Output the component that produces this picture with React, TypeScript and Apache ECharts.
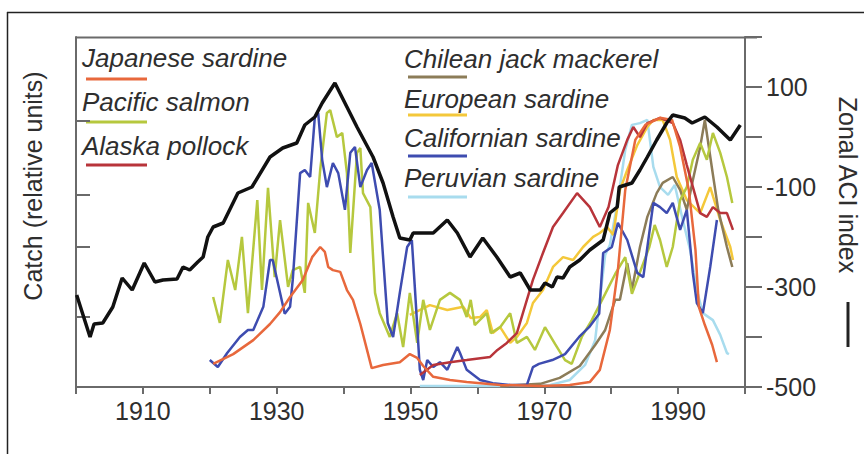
import React, { useEffect, useRef } from 'react';
import * as echarts from 'echarts';

// ---- Data (year, value) ----
// Catch series: relative units on the left axis (0 = bottom, 100 = top)
const japaneseSardine: [number, number][] = [
  [1920.5, 6.6], [1923.5, 9.4], [1926.5, 13.4], [1929.0, 18.0], [1930.5, 21.4], [1932.0, 25.7],
  [1933.9, 30.6], [1935.3, 37.1], [1936.5, 40.0], [1937.2, 38.6], [1937.7, 34.3], [1938.4, 33.4],
  [1939.5, 32.9], [1940.5, 27.7], [1941.4, 24.9], [1942.5, 18.0], [1943.5, 10.6], [1944.2, 5.4],
  [1945.9, 6.3], [1948.4, 7.1], [1949.9, 9.4], [1951.0, 8.3], [1951.9, 6.0], [1953.4, 2.9],
  [1955.9, 2.0], [1958.4, 1.4], [1963.4, 0.6], [1969.4, 0.3], [1973.8, 0.6], [1976.8, 1.4],
  [1978.3, 4.9], [1979.8, 16.3], [1981.0, 33.4], [1982.1, 56.3], [1983.6, 70.6], [1985.1, 74.9],
  [1987.3, 76.9], [1989.1, 76.3], [1990.3, 68.6], [1991.6, 56.3], [1992.6, 39.1], [1993.1, 22.9],
  [1994.0, 17.7], [1995.1, 12.0], [1995.8, 7.1],
];

const pacificSalmon: [number, number][] = [
  [1920.5, 25.7], [1921.5, 18.3], [1922.7, 36.3], [1923.8, 27.7], [1924.8, 42.9], [1925.7, 21.1],
  [1927.1, 53.4], [1927.8, 27.7], [1928.7, 56.9], [1929.7, 31.4], [1930.5, 47.7], [1931.7, 28.6],
  [1932.4, 33.4], [1933.5, 34.3], [1934.2, 26.9], [1934.7, 52.6], [1935.7, 44.0], [1936.5, 62.0],
  [1937.5, 78.3], [1938.0, 79.1], [1939.0, 71.4], [1939.8, 72.6], [1940.5, 61.1], [1941.0, 38.3],
  [1942.0, 66.9], [1942.5, 68.3], [1942.9, 55.4], [1944.0, 51.4], [1944.7, 26.9], [1945.4, 21.1],
  [1946.9, 14.3], [1948.0, 21.1], [1948.9, 11.4], [1949.9, 26.9], [1951.0, 12.6], [1951.9, 24.9],
  [1952.9, 16.3], [1954.4, 24.9], [1955.9, 26.9], [1957.4, 24.9], [1958.4, 20.0], [1959.0, 24.9],
  [1959.6, 17.7], [1961.4, 21.1], [1962.0, 15.4], [1963.4, 17.1], [1964.9, 21.1], [1965.9, 12.6],
  [1967.4, 14.3], [1968.6, 10.6], [1970.1, 17.1], [1971.6, 12.3], [1973.1, 7.7], [1974.1, 6.6],
  [1975.6, 14.3], [1977.1, 19.1], [1979.1, 26.6], [1980.6, 32.3], [1982.1, 37.1], [1983.1, 26.6],
  [1984.2, 32.3], [1985.7, 40.0], [1986.5, 46.3], [1987.3, 42.0], [1988.3, 34.3], [1989.2, 40.0],
  [1990.3, 53.4], [1991.3, 57.1], [1992.2, 64.9], [1993.3, 69.7], [1994.3, 64.9], [1995.2, 72.6],
  [1996.3, 66.9], [1997.3, 60.0], [1998.1, 52.6],
];

const alaskaPollock: [number, number][] = [
  [1951.4, 3.4], [1953.4, 6.3], [1955.9, 7.1], [1958.4, 7.7], [1961.9, 8.6], [1963.0, 10.6],
  [1964.4, 12.6], [1965.9, 15.4], [1966.8, 21.1], [1968.3, 30.6], [1969.8, 38.3], [1971.3, 45.7],
  [1972.8, 49.7], [1974.9, 55.4], [1976.8, 51.4], [1978.3, 45.7], [1979.6, 51.4], [1981.0, 63.4],
  [1982.4, 70.6], [1983.3, 74.3], [1984.3, 71.4], [1985.4, 75.4], [1987.3, 76.9], [1989.2, 75.4],
  [1990.3, 70.6], [1991.3, 63.4], [1993.3, 49.7], [1994.3, 48.6], [1995.2, 51.4], [1996.3, 49.7],
  [1997.3, 49.7], [1998.2, 44.9],
];

const chileanJackMackerel: [number, number][] = [
  [1963.4, 0.3], [1969.4, 0.9], [1972.3, 2.6], [1975.3, 6.0], [1977.6, 12.0], [1979.1, 16.3],
  [1980.6, 24.9], [1981.3, 24.9], [1982.4, 35.4], [1983.1, 27.7], [1984.3, 40.0], [1985.4, 48.6],
  [1986.8, 55.4], [1987.7, 58.3], [1989.2, 60.0], [1990.3, 56.3], [1991.3, 50.6], [1992.2, 59.1],
  [1993.3, 68.6], [1994.0, 76.3], [1995.1, 62.0], [1996.0, 50.6], [1997.3, 40.0], [1998.1, 34.3],
];

const europeanSardine: [number, number][] = [
  [1949.9, 20.6], [1952.9, 23.4], [1955.5, 22.0], [1957.9, 22.9], [1959.0, 19.7], [1960.4, 20.0],
  [1961.4, 22.0], [1962.3, 15.4], [1963.4, 17.1], [1964.9, 12.6], [1965.9, 14.3], [1967.4, 18.3],
  [1968.3, 24.0], [1969.8, 27.7], [1971.3, 34.3], [1972.8, 37.1], [1974.3, 36.3], [1975.8, 40.0],
  [1977.3, 42.9], [1978.3, 44.0], [1979.4, 45.7], [1980.3, 43.4], [1981.3, 56.3], [1982.4, 62.0],
  [1983.9, 69.1], [1985.4, 74.3], [1986.3, 76.3], [1987.7, 76.3], [1988.8, 70.6], [1989.8, 60.0],
  [1991.3, 53.4], [1993.3, 49.7], [1994.8, 57.1], [1996.3, 47.7], [1997.8, 40.0], [1998.2, 36.3],
];

const californianSardine: [number, number][] = [
  [1920.0, 7.7], [1921.2, 5.7], [1922.6, 9.7], [1924.5, 14.3], [1925.7, 16.3], [1926.5, 16.3],
  [1928.0, 22.9], [1929.0, 36.3], [1929.4, 36.3], [1930.5, 26.9], [1931.2, 20.9], [1932.0, 22.9],
  [1932.4, 30.6], [1933.5, 61.1], [1934.2, 62.0], [1935.0, 60.0], [1935.7, 77.1], [1936.2, 78.3],
  [1936.8, 64.9], [1937.5, 57.1], [1938.4, 64.0], [1939.2, 61.1], [1940.2, 50.6], [1941.0, 66.9],
  [1941.7, 68.6], [1942.5, 57.1], [1943.5, 62.0], [1944.2, 64.0], [1945.4, 50.6], [1946.6, 18.3],
  [1947.4, 14.3], [1948.4, 26.9], [1949.5, 40.0], [1950.2, 42.0], [1950.7, 26.9], [1951.4, 4.9],
  [1951.9, 2.0], [1952.5, 7.7], [1953.4, 5.7], [1954.4, 7.1], [1955.5, 4.9], [1957.0, 11.4],
  [1957.4, 9.7], [1958.4, 4.9], [1960.4, 2.0], [1962.3, 1.1], [1964.9, 0.6], [1967.4, 0.6],
  [1968.3, 5.7], [1969.2, 6.6], [1971.2, 7.7], [1973.1, 9.4], [1975.2, 14.3], [1976.7, 17.1],
  [1978.2, 20.9], [1978.8, 38.3], [1980.1, 40.0], [1981.0, 46.9], [1982.4, 42.0], [1983.9, 32.6],
  [1984.8, 31.4], [1986.3, 52.6], [1987.3, 51.4], [1988.3, 49.7], [1989.2, 52.6], [1990.3, 44.9],
  [1991.3, 50.6], [1992.2, 32.6], [1992.8, 24.0], [1993.7, 21.1], [1994.8, 34.3], [1995.8, 47.7],
];

const peruvianSardine: [number, number][] = [
  [1951.4, 0.3], [1963.4, 0.3], [1970.9, 0.6], [1973.8, 2.0], [1976.1, 6.3], [1977.6, 13.4],
  [1978.3, 24.9], [1979.1, 37.7], [1979.8, 40.6], [1981.0, 53.4], [1982.1, 67.7], [1983.1, 74.9],
  [1984.3, 75.4], [1985.4, 76.3], [1986.3, 62.9], [1987.3, 57.1], [1988.5, 54.9], [1989.5, 57.7],
  [1990.7, 47.7], [1991.8, 39.1], [1992.8, 27.7], [1993.7, 21.1], [1995.2, 19.1], [1996.3, 14.9],
  [1997.3, 9.7], [1997.6, 9.4],
];

// Zonal ACI index (right axis)
const aciIndex: [number, number][] = [
  [1900.1, -316], [1902.1, -400], [1902.7, -374], [1904.0, -372], [1905.5, -340], [1906.9, -282],
  [1908.4, -306], [1910.2, -252], [1911.8, -290], [1913.0, -286], [1915.1, -284], [1916.0, -260],
  [1917.0, -266], [1918.2, -250], [1919.0, -240], [1919.7, -200], [1920.5, -180], [1922.0, -172],
  [1924.2, -112], [1926.3, -100], [1929.0, -40], [1930.9, -22], [1933.0, -12], [1934.2, 24],
  [1935.7, 40], [1936.8, 68], [1938.7, 108], [1940.5, 60], [1942.0, 20], [1944.4, -40],
  [1945.9, -92], [1947.4, -160], [1948.4, -202], [1949.9, -206], [1950.4, -192], [1953.4, -192],
  [1955.5, -166], [1957.0, -192], [1958.9, -240], [1960.8, -202], [1962.9, -240], [1964.9, -280],
  [1966.4, -272], [1967.9, -306], [1969.4, -306], [1970.1, -292], [1971.2, -300], [1971.9, -280],
  [1972.8, -282], [1973.8, -260], [1975.3, -246], [1976.8, -226], [1978.8, -206], [1979.8, -152],
  [1980.9, -140], [1981.2, -100], [1983.1, -92], [1984.3, -66], [1985.4, -40], [1986.8, -6],
  [1988.3, 28], [1989.2, 44], [1991.0, 38], [1992.1, 28], [1994.0, 40], [1995.8, 20],
  [1997.8, -6], [1999.3, 24],
];

// Axis ticks / labels
const yearLabels = [1910, 1930, 1950, 1970, 1990];
const aciLabels = [100, -100, -300, -500];
const catchTicks = [20, 40, 55, 76];

const legendLeft = ['Japanese sardine', 'Pacific salmon', 'Alaska pollock'];
const legendRight = ['Chilean jack mackerel', 'European sardine', 'Californian sardine', 'Peruvian sardine'];

const COLORS: Record<string, string> = {
  'Japanese sardine': '#e8683c',
  'Pacific salmon': '#b6c83e',
  'Alaska pollock': '#b8343a',
  'Chilean jack mackerel': '#8c7c58',
  'European sardine': '#f4c83a',
  'Californian sardine': '#3e4cb0',
  'Peruvian sardine': '#a8dcee',
};

const FONT = '"Liberation Sans", Arial, sans-serif';
const AXIS_GRAY = '#6a6a6a';
const TEXT = '#2e2e2e';

export default function App() {
  const ref = useRef<HTMLDivElement>(null);

  useEffect(() => {
    if (!ref.current) return;
    const chart = echarts.init(ref.current, undefined, { renderer: 'svg' });

    const catchSeries: [string, [number, number][]][] = [
      ['Peruvian sardine', peruvianSardine],
      ['European sardine', europeanSardine],
      ['Chilean jack mackerel', chileanJackMackerel],
      ['Pacific salmon', pacificSalmon],
      ['Californian sardine', californianSardine],
      ['Alaska pollock', alaskaPollock],
      ['Japanese sardine', japaneseSardine],
    ];

    const series: any[] = catchSeries.map(([name, data]) => ({
      name,
      type: 'line',
      data,
      xAxisIndex: 0,
      yAxisIndex: 0,
      symbol: 'none',
      showSymbol: false,
      silent: true,
      lineStyle: { color: COLORS[name], width: 2.5 },
      itemStyle: { color: COLORS[name] },
    }));
    series.push({
      name: 'Zonal ACI index',
      type: 'line',
      data: aciIndex,
      xAxisIndex: 0,
      yAxisIndex: 1,
      symbol: 'none',
      showSymbol: false,
      silent: true,
      lineStyle: { color: '#111111', width: 3.5 },
      itemStyle: { color: '#111111' },
      z: 5,
    });

    const graphic: any[] = [];
    // Outer frame (top and left edges)
    graphic.push({ type: 'line', shape: { x1: 7, y1: 12.5, x2: 864, y2: 12.5 }, style: { stroke: '#222', lineWidth: 1.5 }, silent: true });
    graphic.push({ type: 'line', shape: { x1: 7.5, y1: 12, x2: 7.5, y2: 454 }, style: { stroke: '#222', lineWidth: 1.5 }, silent: true });
    // Top border of plot
    graphic.push({ type: 'line', shape: { x1: 76, y1: 37.5, x2: 757, y2: 37.5 }, style: { stroke: AXIS_GRAY, lineWidth: 2 }, silent: true });

    // Legend column 1
    const col1TextY = [58, 102, 146];
    const col1LineY = [79, 122, 165];
    legendLeft.forEach((name, i) => {
      graphic.push({
        type: 'text', x: 82, y: col1TextY[i], silent: true,
        style: { text: name, fill: TEXT, font: `italic 26px ${FONT}`, align: 'left', verticalAlign: 'middle', textAlign: 'left', textVerticalAlign: 'middle' },
      });
      graphic.push({ type: 'line', shape: { x1: 86, y1: col1LineY[i], x2: 147, y2: col1LineY[i] }, style: { stroke: COLORS[name], lineWidth: 3 }, silent: true });
    });
    // Legend column 2
    const col2TextY = [59, 99, 138, 178];
    const col2LineY = [77, 115, 156, 197];
    legendRight.forEach((name, i) => {
      graphic.push({
        type: 'text', x: 404, y: col2TextY[i], silent: true,
        style: { text: name, fill: TEXT, font: `italic 26px ${FONT}`, align: 'left', verticalAlign: 'middle', textAlign: 'left', textVerticalAlign: 'middle' },
      });
      graphic.push({ type: 'line', shape: { x1: 408, y1: col2LineY[i], x2: 467, y2: col2LineY[i] }, style: { stroke: COLORS[name], lineWidth: 3 }, silent: true });
    });

    // Axis titles
    graphic.push({
      type: 'text', x: 33, y: 186, rotation: Math.PI / 2, silent: true,
      style: { text: 'Catch (relative units)', fill: TEXT, font: `25px ${FONT}`, align: 'center', verticalAlign: 'middle', textAlign: 'center', textVerticalAlign: 'middle' },
    });
    graphic.push({
      type: 'text', x: 848, y: 185, rotation: -Math.PI / 2, silent: true,
      style: { text: 'Zonal ACI index', fill: TEXT, font: `25px ${FONT}`, align: 'center', verticalAlign: 'middle', textAlign: 'center', textVerticalAlign: 'middle' },
    });
    graphic.push({ type: 'line', shape: { x1: 848, y1: 302, x2: 848, y2: 347 }, style: { stroke: '#222', lineWidth: 3 }, silent: true });

    chart.setOption({
      animation: false,
      backgroundColor: '#ffffff',
      grid: { left: 76, right: 119, top: 37, bottom: 67, containLabel: false },
      xAxis: {
        type: 'value',
        min: 1900,
        max: 2000,
        interval: 10,
        axisLine: { show: true, lineStyle: { color: AXIS_GRAY, width: 2 } },
        axisTick: { show: true, inside: false, length: 7, lineStyle: { color: AXIS_GRAY, width: 2 } },
        axisLabel: {
          show: true,
          margin: 11,
          color: TEXT,
          fontFamily: FONT,
          fontSize: 25,
          formatter: (v: number) => (yearLabels.includes(v) ? String(v) : ''),
        },
        splitLine: { show: false },
      },
      yAxis: [
        {
          type: 'value',
          position: 'left',
          min: 0,
          max: 100,
          axisLine: { show: true, onZero: false, lineStyle: { color: AXIS_GRAY, width: 2 } },
          axisTick: { show: true, inside: true, length: 14, customValues: catchTicks, lineStyle: { color: AXIS_GRAY, width: 2 } },
          axisLabel: { show: false },
          splitLine: { show: false },
        },
        {
          type: 'value',
          position: 'right',
          min: -500,
          max: 200,
          interval: 100,
          axisLine: { show: true, onZero: false, lineStyle: { color: AXIS_GRAY, width: 2 } },
          axisTick: { show: true, inside: false, length: 17, lineStyle: { color: AXIS_GRAY, width: 2 } },
          axisLabel: {
            show: true,
            margin: 21,
            color: TEXT,
            fontFamily: FONT,
            fontSize: 25,
            formatter: (v: number) => (aciLabels.includes(v) ? String(v) : ''),
          },
          splitLine: { show: false },
        },
      ],
      series,
      graphic,
    });

    return () => chart.dispose();
  }, []);

  return (
    <div
      ref={ref}
      style={{ position: 'fixed', left: 0, top: 0, width: 864, height: 454, background: '#fff' }}
    />
  );
}
